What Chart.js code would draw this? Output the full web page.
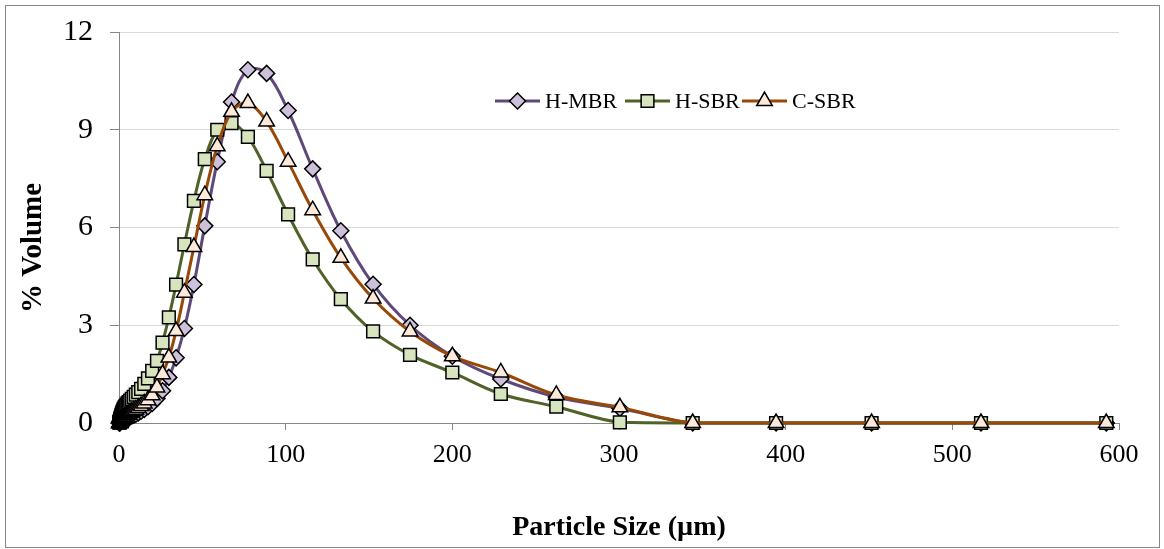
<!DOCTYPE html>
<html><head><meta charset="utf-8">
<script src="https://cdn.jsdelivr.net/npm/chart.js@4"></script>
<style>html,body{margin:0;padding:0;background:#fff;} #wrap{width:1164px;height:549px;position:relative;}</style>
</head><body><div id="wrap"><canvas id="c" width="1164" height="549"></canvas></div>
<script>
// Particle sizes (µm)
const sizes = [0.296, 0.339, 0.389, 0.445, 0.510, 0.584, 0.669, 0.766, 0.877, 1.005, 1.151, 1.318, 1.510, 1.729, 1.981,
  2.269, 2.599, 2.976, 3.409, 3.905, 4.472, 5.122, 5.867, 6.720, 7.697, 8.816, 10.097, 11.565, 13.246, 15.172, 17.377, 19.904,
  22.797, 26.111, 29.907, 34.255, 39.234, 44.938, 51.471, 58.953, 67.523, 77.339, 88.583, 101.460, 116.210, 133.103, 152.453, 174.616, 200.000,
  229.075, 262.376, 300.518, 344.206, 394.244, 451.556, 517.200, 592.387];
const hmbr = [0, 0, 0, 0.01, 0.02, 0.03, 0.04, 0.05, 0.06, 0.07, 0.08, 0.09, 0.10, 0.11, 0.12,
  0.13, 0.14, 0.15, 0.16, 0.17, 0.18, 0.19, 0.20, 0.21, 0.22, 0.24, 0.27, 0.31, 0.36, 0.42, 0.50, 0.60,
  0.75, 0.99, 1.40, 2.00, 2.90, 4.25, 6.05, 8.02, 9.85, 10.84, 10.73, 9.59, 7.80, 5.90, 4.26, 3.00, 2.05,
  1.35, 0.80, 0.45, 0, 0, 0, 0, 0];
const hsbr = [0.01, 0.02, 0.03, 0.04, 0.05, 0.07, 0.09, 0.11, 0.13, 0.15, 0.18, 0.21, 0.24, 0.28, 0.32,
  0.36, 0.40, 0.44, 0.48, 0.52, 0.56, 0.60, 0.64, 0.69, 0.74, 0.80, 0.87, 0.95, 1.05, 1.20, 1.37, 1.60,
  1.91, 2.47, 3.24, 4.25, 5.48, 6.82, 8.10, 9.00, 9.20, 8.78, 7.74, 6.40, 5.02, 3.80, 2.81, 2.09, 1.55,
  0.89, 0.50, 0.02, 0, 0, 0, 0, 0];
const csbr = [0, 0, 0, 0, 0.01, 0.01, 0.02, 0.03, 0.04, 0.05, 0.06, 0.07, 0.08, 0.09, 0.10,
  0.12, 0.14, 0.16, 0.18, 0.20, 0.23, 0.25, 0.28, 0.31, 0.34, 0.37, 0.41, 0.46, 0.52, 0.60, 0.70, 0.85,
  1.09, 1.50, 2.01, 2.82, 4.00, 5.40, 6.99, 8.49, 9.55, 9.82, 9.25, 8.02, 6.53, 5.07, 3.82, 2.81, 2.05,
  1.55, 0.86, 0.48, 0, 0, 0, 0, 0];
const seriesNames = ['H-MBR', 'H-SBR', 'C-SBR'];
const xTicks = [0, 100, 200, 300, 400, 500, 600];
const yTicks = [0, 3, 6, 9, 12];
const xTitle = 'Particle Size (µm)';
const yTitle = '% Volume';

const toPts = arr => sizes.map((s, i) => ({x: s, y: arr[i]}));
const serif = 'Liberation Serif, Times New Roman, serif';

const styles = [
  {line: '#5f497a', fill: '#ccc0da', shape: 'rectRot', r: 8},
  {line: '#4f6228', fill: '#d7e4bd', shape: 'rect', r: 9},
  {line: '#984807', fill: '#fde9d9', shape: 'triangle', r: 9}
];
const allData = [hmbr, hsbr, csbr];

const frame = {
  id: 'frame',
  beforeDraw(chart) {
    const c = chart.ctx;
    c.save();
    c.fillStyle = '#fff';
    c.fillRect(0, 0, chart.width, chart.height);
    c.strokeStyle = '#868686';
    c.lineWidth = 1;
    c.strokeRect(5.5, 5.5, 1154, 542);
    c.restore();
  },
  afterDraw(chart) {
    const c = chart.ctx;
    c.save();
    c.translate(34, 248);
    c.rotate(-Math.PI / 2);
    c.fillStyle = '#000';
    c.font = 'bold 29px ' + serif;
    c.textAlign = 'center';
    c.textBaseline = 'middle';
    c.fillText(yTitle, 0, 0);
    c.restore();
  }
};

const legendPos = [495, 625, 742];
const innerLegend = {
  id: 'innerLegend',
  afterDraw(chart) {
    const c = chart.ctx;
    const y = 101;
    chart.data.datasets.forEach((ds, i) => {
      const x0 = legendPos[i];
      c.save();
      c.strokeStyle = ds.borderColor;
      c.lineWidth = 3;
      c.beginPath(); c.moveTo(x0, y); c.lineTo(x0 + 45, y); c.stroke();
      c.fillStyle = ds.pointBackgroundColor;
      c.strokeStyle = '#000';
      c.lineWidth = 1.5;
      Chart.helpers.drawPoint(c, {pointStyle: ds.pointStyle, radius: ds.pointRadius, rotation: 0, borderWidth: 1.5}, x0 + 22.5, y);
      c.fillStyle = '#000';
      c.font = '22px ' + serif;
      c.textBaseline = 'middle';
      c.textAlign = 'left';
      c.fillText(ds.label, x0 + 50, y + 1);
      c.restore();
    });
  }
};

const datasets = seriesNames.map((name, i) => ({
  label: name,
  data: toPts(allData[i]),
  borderColor: styles[i].line,
  borderWidth: 3,
  pointStyle: styles[i].shape,
  pointRadius: styles[i].r,
  pointHoverRadius: styles[i].r,
  pointBackgroundColor: styles[i].fill,
  pointBorderColor: '#000',
  pointBorderWidth: 1.5,
  tension: 0.35,
  fill: false,
  clip: false,
  order: 3 - i
}));

new Chart(document.getElementById('c'), {
  type: 'line',
  data: {datasets},
  options: {
    responsive: false,
    animation: false,
    devicePixelRatio: 1,
    layout: {padding: {top: 32, right: 45, left: 0, bottom: 0}},
    plugins: {legend: {display: false}, tooltip: {enabled: false}},
    scales: {
      x: {
        type: 'linear', min: 0, max: 600,
        afterBuildTicks: s => { s.ticks = xTicks.map(v => ({value: v})); },
        afterFit: s => { s.height = 126; },
        grid: {drawOnChartArea: false, drawTicks: true, tickLength: 7, tickColor: '#868686', color: '#868686'},
        border: {color: '#868686', width: 1},
        ticks: {padding: 10, color: '#000', font: {family: serif, size: 26}, maxRotation: 0},
        title: {display: true, text: xTitle, color: '#000', font: {family: serif, size: 28, weight: 'bold'}, padding: {top: 0, bottom: 4}}
      },
      y: {
        type: 'linear', min: 0, max: 12,
        afterBuildTicks: s => { s.ticks = yTicks.map(v => ({value: v})); },
        afterFit: s => { s.width = 119; s.paddingTop = 0; s.paddingBottom = 0; },
        grid: {color: c => (c.tick && c.tick.value === 0) ? 'rgba(0,0,0,0)' : '#d9d9d9', lineWidth: 1, drawTicks: true, tickLength: 9, tickColor: '#868686'},
        border: {color: '#868686', width: 1},
        ticks: {padding: 17, color: '#000', font: {family: serif, size: 30, lineHeight: 1}},
        title: {display: false}
      }
    }
  },
  plugins: [frame, innerLegend]
});
</script>
</body></html>
